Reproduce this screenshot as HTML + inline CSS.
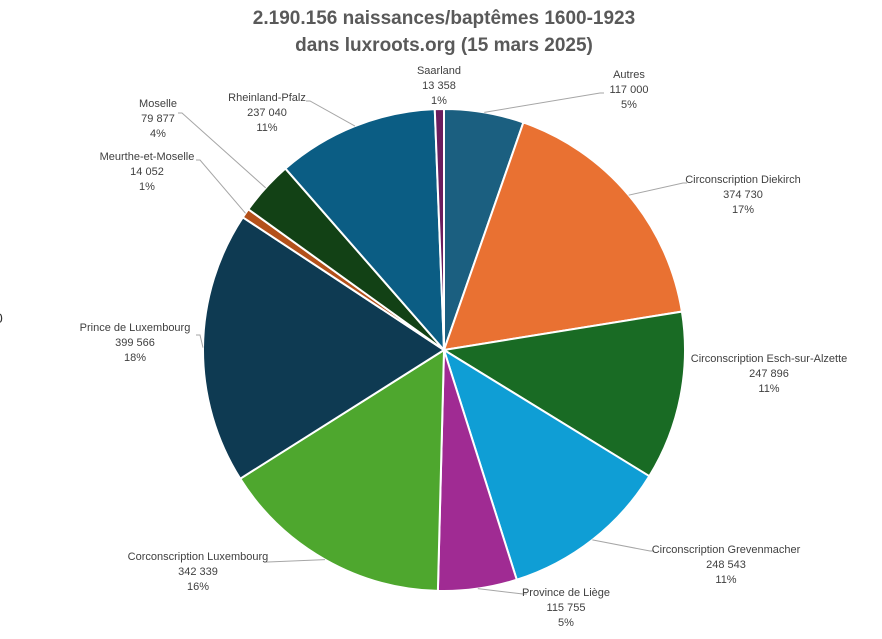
<!DOCTYPE html>
<html><head><meta charset="utf-8"><style>
body{margin:0;background:#fff;width:882px;height:634px;overflow:hidden;font-family:"Liberation Sans",sans-serif}
svg text{font-family:"Liberation Sans",sans-serif}
</style></head><body>
<svg id="chart" width="882" height="634" viewBox="0 0 882 634">
<text x="444" y="24" text-anchor="middle" font-size="19" font-weight="bold" fill="#595959">2.190.156 naissances/baptêmes 1600-1923</text>
<text x="444" y="51" text-anchor="middle" font-size="19" font-weight="bold" fill="#595959">dans luxroots.org (15 mars 2025)</text>
<text x="-5" y="323" font-size="14" fill="#333">0</text>
<g id="slices"></g><g id="labels"></g>
</svg>
<script>
const categories=["Autres","Circonscription Diekirch","Circonscription Esch-sur-Alzette","Circonscription Grevenmacher","Province de Liège","Corconscription Luxembourg","Prince de Luxembourg","Meurthe-et-Moselle","Moselle","Rheinland-Pfalz","Saarland"];
const values=[117000,374730,247896,248543,115755,342339,399566,14052,79877,237040,13358];
const valueLabels=["117 000","374 730","247 896","248 543","115 755","342 339","399 566","14 052","79 877","237 040","13 358"];
const colors=["#1b5f80","#e97132","#196b24","#0f9ed5","#a02b93","#4ea72e","#0e3a52","#b3501a","#124115","#0b5d84","#6b1d5e"];
const layout=[[629,74,'l',[600,93]],[743,179,'l',[683,183]],[769,358,null,null],[726,549,'l',[650,551]],[566,592,'l',[523,594]],[198,556,'r',[268,562]],[135,327,'r',[200,335]],[147,156,'r',[200,160]],[158,103,'r',[182,113]],[267,97,'r',[310,101]],[439,70,null,null]];
const NS="http://www.w3.org/2000/svg",cx=444,cy=350,R=241;
const total=values.reduce((a,b)=>a+b,0);
const sg=document.getElementById('slices'),lg=document.getElementById('labels');
let a=0;
function pt(ang,r){return [cx+r*Math.sin(ang),cy-r*Math.cos(ang)];}
values.forEach((v,i)=>{
 const a0=a,a1=a+v/total*2*Math.PI;a=a1;
 const p0=pt(a0,R),p1=pt(a1,R),large=(a1-a0)>Math.PI?1:0;
 const p=document.createElementNS(NS,'path');
 p.setAttribute('d',`M${cx},${cy}L${p0[0]},${p0[1]}A${R},${R} 0 ${large} 1 ${p1[0]},${p1[1]}Z`);
 p.setAttribute('fill',colors[i]);p.setAttribute('stroke','#fff');p.setAttribute('stroke-width','2');
 
 
 sg.appendChild(p);
 const L=layout[i];const mid=(a0+a1)/2;
 if(L[3]){const s=pt(mid,R);const ln=document.createElementNS(NS,'polyline');
  ln.setAttribute('points',`${s[0]},${s[1]} ${L[3][0]},${L[3][1]} ${L[3][0]+(L[2]=='l'?4:-4)},${L[3][1]}`);
  ln.setAttribute('fill','none');ln.setAttribute('stroke','#a6a6a6');ln.setAttribute('stroke-width','1');
  
  
  lg.appendChild(ln);}
 const pct=Math.round(v/total*100)+'%';
 [categories[i],valueLabels[i],pct].forEach((t,k)=>{
  const tx=document.createElementNS(NS,'text');
  tx.setAttribute('x',L[0]);tx.setAttribute('y',L[1]+k*15+4);tx.setAttribute('text-anchor','middle');
  tx.setAttribute('font-size','11');tx.setAttribute('fill','#404040');tx.textContent=t;
  
  
  lg.appendChild(tx);});
});
</script>
</body></html>
